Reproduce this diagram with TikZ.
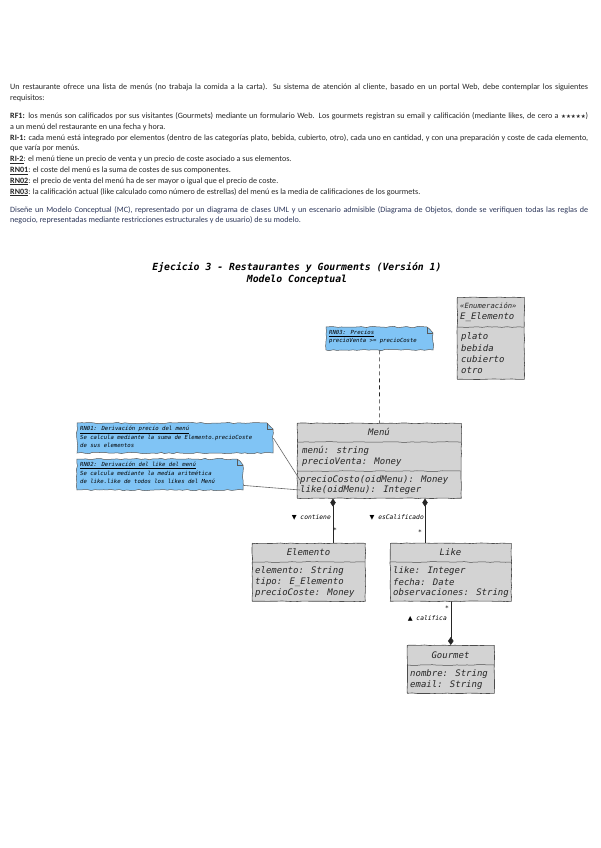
\documentclass[tikz,border=0pt]{standalone}
\usepackage{fontspec}
\setmainfont{Carlito}
\newfontfamily\umlfuente{DejaVu Sans Mono}
\newfontfamily\simbolos{DejaVu Sans}
\usetikzlibrary{arrows.meta,decorations.pathmorphing}

\definecolor{notaazul}{RGB}{128,196,245}
\definecolor{clasegris}{RGB}{211,211,211}
\definecolor{textoazul}{RGB}{45,55,90}

\tikzset{
  boceto/.style={decorate, decoration={random steps, segment length=5pt, amplitude=0.35pt}},
  clase/.style={boceto, draw=black!70, fill=clasegris, line width=0.6pt, inner sep=0pt, anchor=north west},
  separa/.style={boceto, draw=black!70, line width=0.5pt},
  nota/.style={decorate, decoration={random steps, segment length=4pt, amplitude=0.7pt}, draw=black!65, fill=notaazul, line width=0.5pt},
  pliegue/.style={draw=black!65, line width=0.4pt},
  atrib/.style={font=\umlfuente\itshape\fontsize{9}{11}\selectfont, text=black!85, anchor=west, inner sep=0pt},
  nombre/.style={font=\umlfuente\itshape\fontsize{9}{11}\selectfont, text=black!85, inner sep=0pt},
  estereo/.style={font=\umlfuente\itshape\fontsize{7.2}{9}\selectfont, text=black!85, anchor=west, inner sep=0pt},
  notatxt/.style={font=\umlfuente\itshape\fontsize{5.6}{8.4}\selectfont, anchor=north west, inner sep=0pt, align=left},
  rol/.style={font=\umlfuente\itshape\fontsize{6.3}{7}\selectfont, inner sep=0pt},
  enlace/.style={draw=black!85, line width=0.6pt},
  notalinea/.style={draw=black!60, line width=0.6pt},
  tit/.style={font=\umlfuente\bfseries\itshape\fontsize{9.8}{12}\selectfont, inner sep=0pt},
}

% nota UML: nombre, x, y, ancho, alto, texto
\newcommand{\notaUML}[6]{%
  \filldraw[nota] (#2,#3) -- ++(#4-6,0) -- ++(6,6) -- ++(0,#5-6) -- ++(-#4,0) -- cycle;
  \draw[pliegue] (#2+#4-6,#3) -- ++(0,6) -- ++(6,0);
  \node[anchor=north west, inner sep=0pt, minimum width=#4pt, minimum height=#5pt] (#1) at (#2,#3) {};
  \node[notatxt] (#1t) at (#2+3,#3+3) {#6};
}

\begin{document}
\begin{tikzpicture}[x=1pt,y=-1pt]
    \useasboundingbox (0,0) rectangle (600,848);
    \fill[white] (0,0) rectangle (600,848);
    \pgfmathsetseed{11}

    % enunciado
    \node[anchor=north west, text width=578pt, align=justify, inner sep=0pt,
          font=\fontsize{8.1}{10.8}\selectfont, text=black!85] (enunciado) at (10,83.5)
    {Un restaurante ofrece una lista de menús (no trabaja la comida a la carta). Su sistema de atención al cliente, basado en un portal Web, debe contemplar los siguientes\linebreak
     requisitos:\\[7.2pt]
     \textbf{RF1:} los menús son calificados por sus visitantes (Gourmets) mediante un formulario Web. Los gourmets registran su email y calificación (mediante likes, de cero a {\simbolos\fontsize{5.5}{6}\selectfont ★★★★★})\linebreak
     a un menú del restaurante en una fecha y hora.\\
     \textbf{RI-1:} cada menú está integrado por elementos (dentro de las categorías plato, bebida, cubierto, otro), cada uno en cantidad, y con una preparación y coste de cada elemento,\linebreak
     que varía por menús.\\
     \underline{\textbf{RI-2}}: el menú tiene un precio de venta y un precio de coste asociado a sus elementos.\\
     \underline{\textbf{RN01}}: el coste del menú es la suma de costes de sus componentes.\\
     \underline{\textbf{RN02}}: el precio de venta del menú ha de ser mayor o igual que el precio de coste.\\
     \underline{\textbf{RN03}}: la calificación actual (like calculado como número de estrellas) del menú es la media de calificaciones de los gourmets.\\[7.2pt]
     \textcolor{textoazul}{Diseñe un Modelo Conceptual (MC), representado por un diagrama de clases UML y un escenario admisible (Diagrama de Objetos, donde se verifiquen todas las reglas de\linebreak
     negocio, representadas mediante restricciones estructurales y de usuario) de su modelo.}};

    % titulo
    \node[tit] (titulo1) at (297,268) {Ejecicio 3 - Restaurantes y Gourments (Versión 1)};
    \node[tit] (titulo2) at (297,280) {Modelo Conceptual};

    % enumerado
    \node[clase, minimum width=67pt, minimum height=82pt] (enum) at (457,297) {};
    \draw[separa] (457,327) -- (524,327);
    \node[estereo] (enumE) at (460,306) {«Enumeración»};
    \node[atrib] (enumN) at (460,317) {E\_Elemento};
    \node[atrib] (enum1) at (461,337) {plato};
    \node[atrib] (enum2) at (461,348) {bebida};
    \node[atrib] (enum3) at (461,359) {cubierto};
    \node[atrib] (enum4) at (461,370) {otro};

    % Menu
    \node[clase, minimum width=164pt, minimum height=75pt] (menu) at (297,423) {};
    \draw[separa] (297,442) -- (461,442);
    \draw[separa] (297,471) -- (461,471);
    \node[nombre] (menuN) at (379,432) {Menú};
    \node[atrib] (menuA1) at (302,451) {menú: string};
    \node[atrib] (menuA2) at (302,462) {precioVenta: Money};
    \node[atrib] (menuM1) at (300,480) {precioCosto(oidMenu): Money};
    \node[atrib] (menuM2) at (300,490) {like(oidMenu): Integer};

    % Elemento
    \node[clase, minimum width=113pt, minimum height=58pt] (elemento) at (252,543) {};
    \draw[separa] (252,562) -- (365,562);
    \node[nombre] (elementoN) at (308.5,552) {Elemento};
    \node[atrib] (elementoA1) at (255,571) {elemento: String};
    \node[atrib] (elementoA2) at (255,582) {tipo: E\_Elemento};
    \node[atrib] (elementoA3) at (255,593) {precioCoste: Money};

    % Like
    \node[clase, minimum width=121pt, minimum height=58pt] (like) at (390,543) {};
    \draw[separa] (390,562) -- (511,562);
    \node[nombre] (likeN) at (450.5,552) {Like};
    \node[atrib] (likeA1) at (393,571) {like: Integer};
    \node[atrib] (likeA2) at (393,582) {fecha: Date};
    \node[atrib] (likeA3) at (393,593) {observaciones: String};

    % Gourmet
    \node[clase, minimum width=87pt, minimum height=48pt] (gourmet) at (407,645) {};
    \draw[separa] (407,665) -- (494,665);
    \node[nombre] (gourmetN) at (450.5,655) {Gourmet};
    \node[atrib] (gourmetA1) at (410,674) {nombre: String};
    \node[atrib] (gourmetA2) at (410,685) {email: String};

    % notas
    \notaUML{rn03}{326}{327}{107}{23}{\underline{RN03: Precios}\\precioVenta >= precioCoste}
    \notaUML{rn01}{77}{423}{196}{30}{\underline{RN01: Derivación precio del menú}\\Se calcula mediante la suma de Elemento.precioCoste\\de sus elementos}
    \notaUML{rn02}{77}{459}{166}{31}{\underline{RN02: Derivación del like del menú}\\Se calcula mediante la media aritmética\\de like.like de todos los likes del Menú}

    \draw[enlace, dash pattern=on 4pt off 3pt] (rn03.south) -- (menu.north);
    \draw[notalinea] (rn01.east) -- (menuM1.west);
    \draw[notalinea] ([yshift=5pt]rn02.south east) -- (menuM2.west);

    % asociaciones
    \coordinate (contA) at ([xshift=36pt]menu.south west);
    \coordinate (califA) at ([xshift=128pt]menu.south west);
    \draw[enlace, {Diamond[length=8pt,width=5.5pt]}-] (contA) -- (contA |- elemento.north);
    \draw[enlace, {Diamond[length=8pt,width=5.5pt]}-] (califA) -- (califA |- like.north);
    \draw[enlace, -{Diamond[length=8pt,width=5.5pt]}] (like.south) -- (gourmet.north);

    \node[rol, anchor=east] (rolContiene) at (331,517) {{\simbolos▼} contiene};
    \node[rol, anchor=east] (rolCalificado) at (424,517) {{\simbolos▼} esCalificado};
    \node[rol, anchor=east] (rolCalifica) at (447,618) {{\simbolos▲} califica};
    \node[rol] (multA) at (335,530) {*};
    \node[rol] (multB) at (420,532) {*};
    \node[rol] (multC) at (447,608) {*};
\end{tikzpicture}
\end{document}
